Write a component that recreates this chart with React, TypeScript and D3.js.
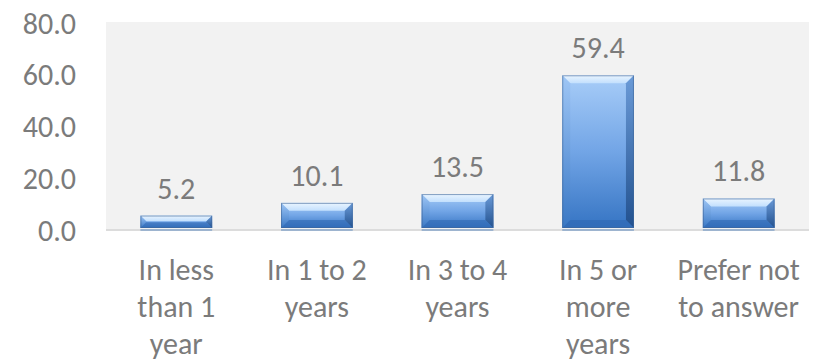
import React from "react";
import * as d3 from "d3";

const categories: string[][] = [
  ["In less", "than 1", "year"],
  ["In 1 to 2", "years"],
  ["In 3 to 4", "years"],
  ["In 5 or", "more", "years"],
  ["Prefer not", "to answer"],
];
const values: number[] = [5.2, 10.1, 13.5, 59.4, 11.8];
const yTicks: number[] = [0, 20, 40, 60, 80];

const W = 819;
const H = 363;
const PL = 106;
const PR = 809;
const PT = 22;
const PB = 229;
const FONT = "Carlito, Calibri, Lato, 'Open Sans', sans-serif";
const TEXT = "#7b7b7b";
const FS = 30;

export default function App() {
  const keys = categories.map((c) => c.join(" "));
  const x = d3.scaleBand<string>().domain(keys).range([PL, PR]).paddingInner(0.49).paddingOuter(0.245);
  const y = d3.scaleLinear().domain([0, 80]).range([PB, PT]);
  const bw = x.bandwidth();

  return (
    <svg width={W} height={H} style={{ position: "absolute", left: 0, top: 0 }}>
      <defs>
        <linearGradient id="body" x1="0" y1="0" x2="0" y2="1">
          <stop offset="0" stopColor="#a8cdf8" />
          <stop offset="0.5" stopColor="#72a5e6" />
          <stop offset="1" stopColor="#3574c3" />
        </linearGradient>
        <linearGradient id="topb" x1="0" y1="0" x2="0" y2="1">
          <stop offset="0" stopColor="#eaf5ff" />
          <stop offset="1" stopColor="#c2dffd" />
        </linearGradient>
        <linearGradient id="leftb" x1="0" y1="0" x2="0" y2="1">
          <stop offset="0" stopColor="#9cc4f4" />
          <stop offset="1" stopColor="#3a78c4" />
        </linearGradient>
        <linearGradient id="rightb" x1="0" y1="0" x2="0" y2="1">
          <stop offset="0" stopColor="#6b9bd8" />
          <stop offset="1" stopColor="#22518f" />
        </linearGradient>
      </defs>
      <rect x={PL} y={PT} width={PR - PL} height={PB - PT} fill="#f2f2f2" />
      <rect x={PL} y={PB} width={PR - PL} height={2} fill="#dcdcdc" />
      {yTicks.map((t) => (
        <text
          key={t}
          x={76}
          y={y(t) + 1}
          textAnchor="end"
          dominantBaseline="central"
          fontFamily={FONT}
          fontSize={FS}
          fill={TEXT}
        >
          {t.toFixed(1)}
        </text>
      ))}
      {values.map((v, i) => {
        const x0 = x(keys[i])!;
        const x1 = x0 + bw;
        const y0 = y(v);
        const y1 = y(0) - 1;
        const h = y1 - y0;
        const b = Math.min(8, h / 2.2);
        return (
          <g key={i}>
            <rect x={x0} y={y1 + 1} width={bw} height={2} fill="#9db4cf" />
            <rect x={x0} y={y0} width={bw} height={h} fill="url(#body)" />
            <polygon
              points={`${x0},${y0} ${x1},${y0} ${x1 - b},${y0 + b} ${x0 + b},${y0 + b}`}
              fill="url(#topb)"
            />
            <polygon
              points={`${x0},${y0} ${x0 + b},${y0 + b} ${x0 + b},${y1 - b} ${x0},${y1}`}
              fill="url(#leftb)"
              opacity={0.8}
            />
            <polygon
              points={`${x1},${y0} ${x1},${y1} ${x1 - b},${y1 - b} ${x1 - b},${y0 + b}`}
              fill="url(#rightb)"
            />
            <polygon
              points={`${x0},${y1} ${x1},${y1} ${x1 - b},${y1 - b} ${x0 + b},${y1 - b}`}
              fill="#2f68b2"
              opacity={0.6}
            />
            <rect
              x={x0 + 0.5}
              y={y0 + 0.5}
              width={bw - 1}
              height={h - 1}
              fill="none"
              stroke="#3f6698"
              strokeOpacity={0.6}
            />
            <text
              x={x0 + bw / 2}
              y={y0 - 17}
              textAnchor="middle"
              fontFamily={FONT}
              fontSize={FS}
              fill={TEXT}
            >
              {v.toFixed(1)}
            </text>
            <text textAnchor="middle" fontFamily={FONT} fontSize={FS} fill={TEXT}>
              {categories[i].map((line, j) => (
                <tspan key={j} x={x0 + bw / 2} y={280 + j * 37}>
                  {line}
                </tspan>
              ))}
            </text>
          </g>
        );
      })}
    </svg>
  );
}
